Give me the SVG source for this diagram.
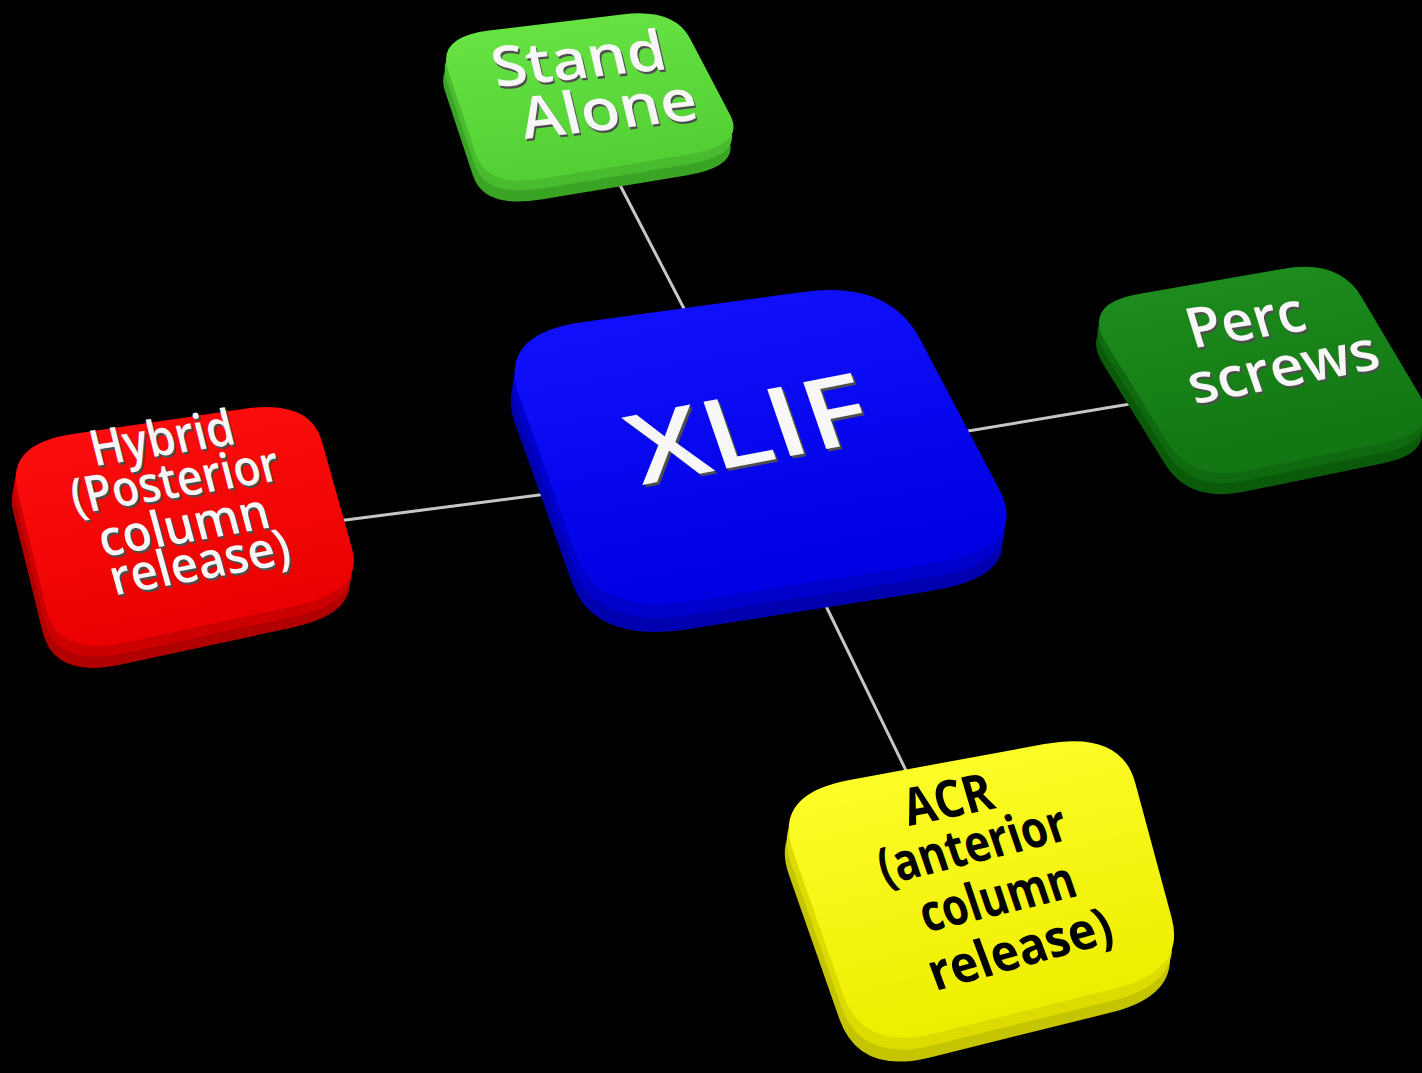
<svg xmlns="http://www.w3.org/2000/svg" xmlns:xlink="http://www.w3.org/1999/xlink" width="1422" height="1073" viewBox="0 0 1422 1073">
<defs>
<linearGradient id="gBlue" x1="0" y1="0" x2="0.3" y2="1"><stop offset="0" stop-color="#1212ff"/><stop offset="1" stop-color="#0000e4"/></linearGradient>
<linearGradient id="gLg" x1="0" y1="0" x2="0.3" y2="1"><stop offset="0" stop-color="#6ae646"/><stop offset="1" stop-color="#52cf33"/></linearGradient>
<linearGradient id="gDg" x1="0" y1="0" x2="0.3" y2="1"><stop offset="0" stop-color="#1f8f1f"/><stop offset="1" stop-color="#127612"/></linearGradient>
<linearGradient id="gRed" x1="0" y1="0" x2="0.3" y2="1"><stop offset="0" stop-color="#ff1010"/><stop offset="1" stop-color="#ea0000"/></linearGradient>
<linearGradient id="gYel" x1="0" y1="0" x2="0.3" y2="1"><stop offset="0" stop-color="#ffff30"/><stop offset="1" stop-color="#eeee00"/></linearGradient>
<path id="pX" d="M583.2,322.1 L802.8,291.9 Q889,280 920,339 L999,489 Q1030,548 935,563 L693,601 Q598,616 575.8,554 L519.2,396 Q497,334 583.2,322.1 Z"/>
<path id="pS" d="M489.1,30.6 L621.9,14.4 Q674,8 689.8,38.1 L730.2,114.9 Q746,145 689,154.5 L544,178.5 Q487,188 476,154.8 L448,70.2 Q437,37 489.1,30.6 Z"/>
<path id="pP" d="M1138.5,294.1 L1282.5,268.9 Q1339,259 1361.4,296.8 L1418.6,393.2 Q1441,431 1386.2,442.2 L1246.8,470.8 Q1192,482 1167.8,442.8 L1106.2,343.2 Q1082,304 1138.5,294.1 Z"/>
<path id="pH" d="M72.9,434.1 L243.1,408.9 Q310,399 321.9,441.2 L352.1,548.8 Q364,591 296.7,605.5 L125.3,642.5 Q58,657 46.6,610.1 L17.4,490.9 Q6,444 72.9,434.1 Z"/>
<path id="pA" d="M849.6,779.9 L1044.4,744.1 Q1121,730 1135.3,783 L1171.7,918 Q1186,971 1114.9,988.6 L934.1,1033.4 Q863,1051 843.2,994.5 L792.8,850.5 Q773,794 849.6,779.9 Z"/>
</defs>
<style>
.conn{stroke:#c6c6c6;stroke-width:3;fill:none;stroke-linecap:round}
.t{font-family:"Open Sans","DejaVu Sans",sans-serif;font-weight:600;text-anchor:middle}
.w{fill:#f7f7f7}
.sh{fill:#4e4e4e}
.k{fill:#000000;font-weight:700}
</style>
<rect width="1422" height="1073" fill="#000000"/>
<g id="connectors">
<line class="conn" x1="620" y1="185" x2="692" y2="324"/>
<line class="conn" x1="950" y1="434" x2="1160" y2="399"/>
<line class="conn" x1="330" y1="522" x2="570" y2="491"/>
<line class="conn" x1="825" y1="604" x2="915" y2="789"/>
</g>
<g id="node-stand-alone">
<use xlink:href="#pS" transform="translate(-3,21)" fill="#3aa424"/>
<use xlink:href="#pS" transform="translate(-1.5,10)" fill="#48bb2e"/>
<use xlink:href="#pS" fill="url(#gLg)"/>
<g class="t" font-size="56" transform="translate(583,78) rotate(-6) skewX(7)">
<text class="sh" x="1" y="2.5" textLength="174" lengthAdjust="spacingAndGlyphs">Stand</text>
<text class="w" x="0" y="0" textLength="174" lengthAdjust="spacingAndGlyphs">Stand</text>
</g>
<g class="t" font-size="58" transform="translate(613,129) rotate(-6.5) skewX(7)">
<text class="sh" x="1" y="2.5" textLength="177" lengthAdjust="spacingAndGlyphs">Alone</text>
<text class="w" x="0" y="0" textLength="177" lengthAdjust="spacingAndGlyphs">Alone</text>
</g>
</g>
<g id="node-xlif">
<use xlink:href="#pX" transform="translate(-4,28)" fill="#0000b0"/>
<use xlink:href="#pX" transform="translate(-2,14)" fill="#0000cc"/>
<use xlink:href="#pX" fill="url(#gBlue)"/>
<g class="t" font-size="98" transform="translate(760,462) rotate(-11) skewX(8)">
<text class="sh" x="1.5" y="3" textLength="240" lengthAdjust="spacingAndGlyphs">XLIF</text>
<text class="w" x="0" y="0" textLength="240" lengthAdjust="spacingAndGlyphs">XLIF</text>
</g>
</g>
<g id="node-perc-screws">
<use xlink:href="#pP" transform="translate(-3,21)" fill="#0a5a0a"/>
<use xlink:href="#pP" transform="translate(-1.5,10)" fill="#0f6a0f"/>
<use xlink:href="#pP" fill="url(#gDg)"/>
<g class="t" font-size="56" transform="translate(1251,339) rotate(-9) skewX(8)">
<text class="sh" x="1" y="2.5" textLength="118" lengthAdjust="spacingAndGlyphs">Perc</text>
<text class="w" x="0" y="0" textLength="118" lengthAdjust="spacingAndGlyphs">Perc</text>
</g>
<g class="t" font-size="56" transform="translate(1289,386) rotate(-11) skewX(8)">
<text class="sh" x="1" y="2.5" textLength="192" lengthAdjust="spacingAndGlyphs">screws</text>
<text class="w" x="0" y="0" textLength="192" lengthAdjust="spacingAndGlyphs">screws</text>
</g>
</g>
<g id="node-hybrid">
<use xlink:href="#pH" transform="translate(-4,22)" fill="#b00000"/>
<use xlink:href="#pH" transform="translate(-2,11)" fill="#cc0000"/>
<use xlink:href="#pH" fill="url(#gRed)"/>
<g class="t" font-size="50" transform="translate(166,455) rotate(-9) skewX(5)">
<text class="sh" x="1" y="2.5" textLength="145" lengthAdjust="spacingAndGlyphs">Hybrid</text>
<text class="w" x="0" y="0" textLength="145" lengthAdjust="spacingAndGlyphs">Hybrid</text>
</g>
<g class="t" font-size="50" transform="translate(179,497) rotate(-9.5) skewX(5)">
<text class="sh" x="1" y="2.5" textLength="210" lengthAdjust="spacingAndGlyphs">(Posterior</text>
<text class="w" x="0" y="0" textLength="210" lengthAdjust="spacingAndGlyphs">(Posterior</text>
</g>
<g class="t" font-size="50" transform="translate(188,542) rotate(-10) skewX(5)">
<text class="sh" x="1" y="2.5" textLength="172" lengthAdjust="spacingAndGlyphs">column</text>
<text class="w" x="0" y="0" textLength="172" lengthAdjust="spacingAndGlyphs">column</text>
</g>
<g class="t" font-size="50" transform="translate(204,579) rotate(-10.5) skewX(5)">
<text class="sh" x="1" y="2.5" textLength="182" lengthAdjust="spacingAndGlyphs">release)</text>
<text class="w" x="0" y="0" textLength="182" lengthAdjust="spacingAndGlyphs">release)</text>
</g>
</g>
<g id="node-acr">
<use xlink:href="#pA" transform="translate(-4,24)" fill="#c4c400"/>
<use xlink:href="#pA" transform="translate(-2,12)" fill="#dcdc00"/>
<use xlink:href="#pA" fill="url(#gYel)"/>
<g class="t k" font-size="52" transform="translate(953,817) rotate(-11.5) skewX(5)">
<text x="0" y="0" textLength="90" lengthAdjust="spacingAndGlyphs">ACR</text>
</g>
<g class="t k" font-size="52" transform="translate(978,862) rotate(-14) skewX(5)">
<text x="0" y="0" textLength="192" lengthAdjust="spacingAndGlyphs">(anterior</text>
</g>
<g class="t k" font-size="52" transform="translate(1003,914) rotate(-13.5) skewX(5)">
<text x="0" y="0" textLength="158" lengthAdjust="spacingAndGlyphs">column</text>
</g>
<g class="t k" font-size="52" transform="translate(1026,966) rotate(-15.5) skewX(5)">
<text x="0" y="0" textLength="188" lengthAdjust="spacingAndGlyphs">release)</text>
</g>
</g>
</svg>
